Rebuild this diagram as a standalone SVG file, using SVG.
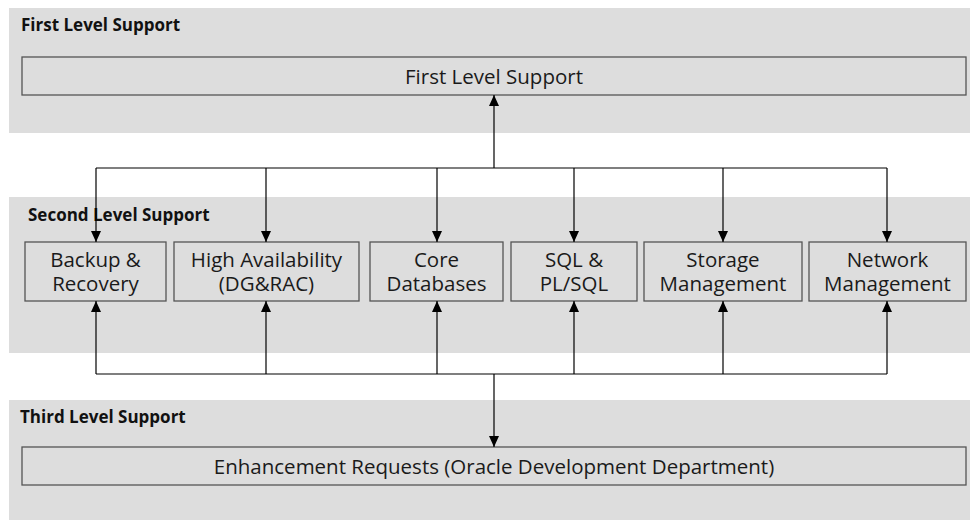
<svg xmlns="http://www.w3.org/2000/svg" width="970" height="520" viewBox="0 0 970 520">
  <style>
    .band { fill: #dddddd; }
    .box { fill: #dddddd; stroke: #555555; stroke-width: 1.3; }
    .band-label { font-family: "Open Sans", "Liberation Sans", sans-serif; font-weight: bold; font-size: 17px; fill: #111111; }
    .label { font-family: "Open Sans", "Liberation Sans", sans-serif; font-size: 20.5px; fill: #1a1a1a; text-anchor: middle; }
    .wire { fill: none; stroke: #000000; stroke-width: 1.2; }
  </style>
  <defs>
    <marker id="arrow" viewBox="0 0 11 10" refX="11" refY="5" markerWidth="11" markerHeight="10" markerUnits="userSpaceOnUse" orient="auto">
      <path d="M0,0 L11,5 L0,10 z" fill="#000000"/>
    </marker>
  </defs>

  <rect width="970" height="520" fill="#ffffff"/>

  <!-- support level bands -->
  <g id="band-first">
    <rect class="band" x="9" y="8" width="961" height="125"/>
    <text class="band-label" x="21" y="31">First Level Support</text>
  </g>
  <g id="band-second">
    <rect class="band" x="9" y="197" width="961" height="156"/>
    <text class="band-label" x="28" y="221">Second Level Support</text>
  </g>
  <g id="band-third">
    <rect class="band" x="9" y="400" width="961" height="120"/>
    <text class="band-label" x="20" y="423">Third Level Support</text>
  </g>

  <!-- nodes -->
  <g id="first-level">
    <rect class="box" x="22" y="57" width="944" height="38"/>
    <text class="label" x="494" y="83.5">First Level Support</text>
  </g>
  <g id="backup-recovery">
    <rect class="box" x="25" y="242" width="141" height="59"/>
    <text class="label" x="95.5" y="267">Backup &amp;</text>
    <text class="label" x="95.5" y="291">Recovery</text>
  </g>
  <g id="high-availability">
    <rect class="box" x="174" y="242" width="185" height="59"/>
    <text class="label" x="266.5" y="267">High Availability</text>
    <text class="label" x="266.5" y="291">(DG&amp;RAC)</text>
  </g>
  <g id="core-databases">
    <rect class="box" x="370" y="242" width="133" height="59"/>
    <text class="label" x="436.5" y="267">Core</text>
    <text class="label" x="436.5" y="291">Databases</text>
  </g>
  <g id="sql-plsql">
    <rect class="box" x="511" y="242" width="126" height="59"/>
    <text class="label" x="574" y="267">SQL &amp;</text>
    <text class="label" x="574" y="291">PL/SQL</text>
  </g>
  <g id="storage-management">
    <rect class="box" x="644" y="242" width="158" height="59"/>
    <text class="label" x="723" y="267">Storage</text>
    <text class="label" x="723" y="291">Management</text>
  </g>
  <g id="network-management">
    <rect class="box" x="809" y="242" width="157" height="59"/>
    <text class="label" x="887.5" y="267">Network</text>
    <text class="label" x="887.5" y="291">Management</text>
  </g>
  <g id="enhancement-requests">
    <rect class="box" x="22" y="447" width="944" height="38"/>
    <text class="label" x="494" y="473.5">Enhancement Requests (Oracle Development Department)</text>
  </g>

  <!-- connectors -->
  <g id="connectors">
    <!-- upper bus feeding the second level and the first level -->
    <path class="wire" d="M96,168 H887"/>
    <path class="wire" d="M494,168 V95" marker-end="url(#arrow)"/>
    <path class="wire" d="M96,168 V242" marker-end="url(#arrow)"/>
    <path class="wire" d="M266,168 V242" marker-end="url(#arrow)"/>
    <path class="wire" d="M437,168 V242" marker-end="url(#arrow)"/>
    <path class="wire" d="M574,168 V242" marker-end="url(#arrow)"/>
    <path class="wire" d="M723,168 V242" marker-end="url(#arrow)"/>
    <path class="wire" d="M887,168 V242" marker-end="url(#arrow)"/>
    <!-- lower bus between the second and third level -->
    <path class="wire" d="M96,374 H887"/>
    <path class="wire" d="M494,374 V447" marker-end="url(#arrow)"/>
    <path class="wire" d="M96,374 V301" marker-end="url(#arrow)"/>
    <path class="wire" d="M266,374 V301" marker-end="url(#arrow)"/>
    <path class="wire" d="M437,374 V301" marker-end="url(#arrow)"/>
    <path class="wire" d="M574,374 V301" marker-end="url(#arrow)"/>
    <path class="wire" d="M723,374 V301" marker-end="url(#arrow)"/>
    <path class="wire" d="M887,374 V301" marker-end="url(#arrow)"/>
  </g>
</svg>
